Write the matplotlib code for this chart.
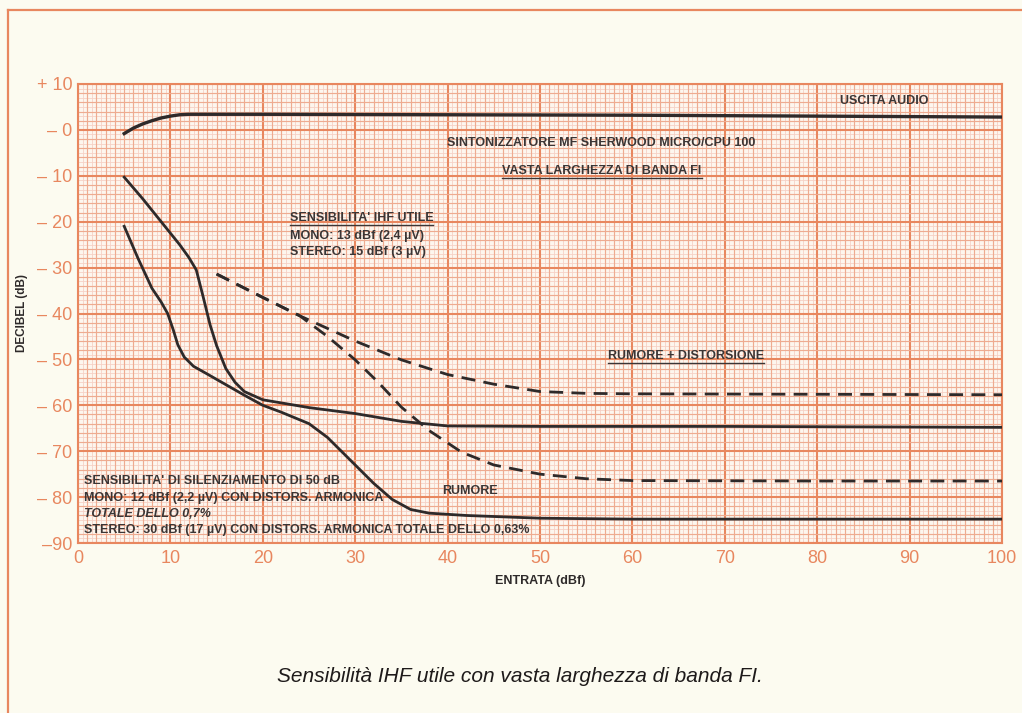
import numpy as np
import matplotlib.pyplot as plt
from matplotlib.lines import Line2D
from matplotlib.ticker import MultipleLocator

# curves (x in dBf, y in dB)
audio_x = [5, 6, 7, 8, 9, 10, 11, 12, 20, 40, 60, 80, 100]
audio_y = [-0.8, 0.4, 1.3, 2.0, 2.6, 3.0, 3.3, 3.4, 3.4, 3.3, 3.2, 3.0, 2.8]

mono_x = [5, 6.5, 8, 9, 9.7, 10.3, 10.8, 11.5, 12.5, 14, 16, 18, 20, 22, 25, 27, 30, 32, 34, 36, 38, 42, 50, 60, 80, 100]
mono_y = [-21, -28, -34.5, -37.5, -40, -43.5, -46.8, -49.5, -51.5, -53.2, -55.5, -57.8, -60, -61.5, -64,
          -67, -73, -77, -80.5, -82.7, -83.5, -84, -84.6, -84.8, -84.8, -84.8]

stereo_x = [5, 7, 9, 11, 12, 12.8, 13.5, 14.3, 15, 16, 17, 18, 20, 25, 30, 35, 40, 50, 70, 100]
stereo_y = [-10.3, -15, -20, -25, -27.8, -30.5, -36, -42.5, -47, -52, -55, -57, -58.8, -60.5, -61.8,
            -63.5, -64.5, -64.6, -64.6, -64.8]

nd_hi_x = [15, 20, 24, 30, 35, 40, 45, 50, 55, 60, 80, 100]
nd_hi_y = [-31.4, -36.5, -40.5, -46, -50.1, -53.3, -55.4, -57, -57.4, -57.5, -57.6, -57.7]

nd_lo_x = [15, 20, 24, 27, 30, 32.5, 35, 38, 41.5, 45, 50, 55, 60, 80, 100]
nd_lo_y = [-31.4, -36.5, -40.5, -45, -50.1, -55, -60.4, -65.5, -70.2, -73, -75, -76, -76.4, -76.5, -76.5]

xticks = list(range(0, 101, 10))
yticks = list(range(-90, 11, 10))
ylabels = ["+ 10", "– 0", "– 10", "– 20", "– 30", "– 40", "– 50", "– 60", "– 70", "– 80", "–90"]
ylabels = ylabels[::-1]

cream = "#fcfbf0"
orange = "#e8875f"
ink = "#2e2a2a"
lab = ["Liberation Sans", "DejaVu Sans"]

fig = plt.figure(figsize=(10.22, 7.13), dpi=100, facecolor=cream)
ax = fig.add_axes([78 / 1022, 1 - 543 / 713, 924 / 1022, 459 / 713])
ax.set_facecolor("#fdf6ee")

# graph paper
for v in np.arange(0, 100.01, 0.5):
    ax.axvline(v, color="#f6d2c6", lw=0.6, zorder=0)
for v in np.arange(-90, 10.01, 1):
    ax.axhline(v, color="#f6d2c6", lw=0.6, zorder=0)
ax.xaxis.set_minor_locator(MultipleLocator(1))
ax.yaxis.set_minor_locator(MultipleLocator(2))
ax.xaxis.set_major_locator(MultipleLocator(5))
ax.yaxis.set_major_locator(MultipleLocator(10))
ax.grid(which="minor", color="#eeab90", lw=0.85, zorder=0.5)
ax.grid(which="major", color=orange, lw=1.5, zorder=0.6)
ax.set_axisbelow(True)

ax.plot(audio_x, audio_y, color=ink, lw=2.4, zorder=3)
ax.plot(mono_x, mono_y, color=ink, lw=2.0, zorder=3)
ax.plot(stereo_x, stereo_y, color=ink, lw=2.0, zorder=3)
ax.plot(nd_hi_x, nd_hi_y, color=ink, lw=2.0, ls=(0, (5, 3)), zorder=3)
ax.plot(nd_lo_x, nd_lo_y, color=ink, lw=2.0, ls=(0, (5, 3)), zorder=3)

ax.set_xlim(0, 100)
ax.set_ylim(-90, 10)
ax.set_xticks(xticks)
ax.set_xticklabels([str(t) for t in xticks], family=lab)
ax.set_yticks(yticks)
ax.set_yticklabels(ylabels, family=lab)
ax.tick_params(which="both", length=0, colors=orange, labelsize=13)
ax.tick_params(axis="x", pad=5)
ax.tick_params(axis="y", pad=4)
for s in ax.spines.values():
    s.set_color(orange)
    s.set_linewidth(1.5)

ax.set_xlabel("ENTRATA (dBf)", family=lab, weight="bold", fontsize=9, color=ink, labelpad=6)
ax.set_ylabel("DECIBEL (dB)", family=lab, weight="bold", fontsize=8.5, color=ink, labelpad=6)

tk = dict(family=lab, weight="bold", fontsize=9, color="#3a3535", zorder=4)
ax.text(87.3, 6.3, "USCITA AUDIO", ha="center", va="center", **tk)
ax.text(56.6, -2.9, "SINTONIZZATORE MF SHERWOOD MICRO/CPU 100", ha="center", va="center", **tk)
t_vasta = ax.text(56.7, -9.0, "VASTA LARGHEZZA DI BANDA FI", ha="center", va="center", **tk)
t_sens = ax.text(22.9, -19.2, "SENSIBILITA' IHF UTILE", ha="left", va="center", **tk)
ax.text(22.9, -23.1, "MONO: 13 dBf (2,4 µV)", ha="left", va="center", **tk)
ax.text(22.9, -26.5, "STEREO: 15 dBf (3 µV)", ha="left", va="center", **tk)
t_rd = ax.text(65.8, -49.3, "RUMORE + DISTORSIONE", ha="center", va="center", **tk)
ax.text(42.4, -78.6, "RUMORE", ha="center", va="center", **tk)
ax.text(0.7, -76.6, "SENSIBILITA' DI SILENZIAMENTO DI 50 dB", ha="left", va="center", **tk)
ax.text(0.7, -80.1, "MONO: 12 dBf (2,2 µV) CON DISTORS. ARMONICA", ha="left", va="center", **tk)
ax.text(0.7, -83.7, "TOTALE DELLO 0,7%", ha="left", va="center", style="italic", **tk)
ax.text(0.7, -87.2, "STEREO: 30 dBf (17 µV) CON DISTORS. ARMONICA TOTALE DELLO 0,63%",
        ha="left", va="center", **tk)

fig.text(520 / 1022, 1 - 676 / 713, "Sensibilità IHF utile con vasta larghezza di banda FI.",
         ha="center", va="center", style="italic", fontsize=15, color="#1e1a1a", family=lab)

# underlines under some labels
fig.canvas.draw()
r = fig.canvas.get_renderer()
for t in [t_vasta, t_sens, t_rd]:
    bb = t.get_window_extent(r)
    x0, x1 = bb.x0 / 1022, bb.x1 / 1022
    yy = (bb.y0 - 1) / 713
    fig.add_artist(Line2D([x0, x1], [yy, yy], color="#3a3535", lw=1.0, zorder=5))

# page frame
fig.add_artist(Line2D([8 / 1022, 8 / 1022], [0, 1 - 10 / 713], color=orange, lw=1.6))
fig.add_artist(Line2D([8 / 1022, 1], [1 - 10 / 713, 1 - 10 / 713], color=orange, lw=1.6))

fig.savefig("out.png", dpi=100, facecolor=cream)
